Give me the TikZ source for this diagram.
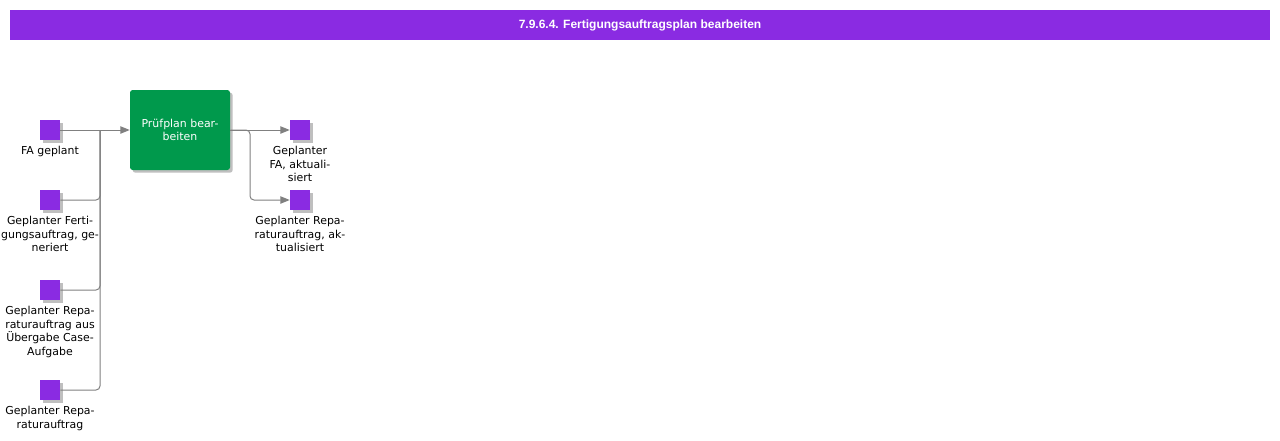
\documentclass[tikz,border=0pt]{standalone}
\usepackage{fontspec}
\setmainfont{DejaVu Sans}
\newfontfamily\titelfont{Liberation Sans}
\usetikzlibrary{positioning,shadows,arrows.meta}

\definecolor{violett}{RGB}{138,43,226}
\definecolor{gruen}{RGB}{0,153,76}
\definecolor{pfeil}{RGB}{128,128,128}

\tikzset{
  obj/.style={fill=violett, minimum size=15pt, inner sep=0pt,
    drop shadow={shadow xshift=2pt, shadow yshift=-2pt, fill=black!25, opacity=1}},
  lbl/.style={align=center, inner sep=0pt, font=\fontsize{8.2}{10.1}\selectfont},
  task/.style={fill=gruen, text=white, rounded corners=2pt, minimum width=75pt,
    minimum height=60pt, align=center, font=\fontsize{8.2}{10.1}\selectfont,
    drop shadow={shadow xshift=2pt, shadow yshift=-2pt, fill=black!25, opacity=1}},
  con/.style={draw=pfeil, line width=0.75pt, rounded corners=3pt,
    -{Triangle[length=7pt,width=5.5pt]}},
  bus/.style={draw=pfeil, line width=0.75pt, rounded corners=3pt}
}

\begin{document}
\begin{tikzpicture}[x=0.75pt,y=-0.75pt]
\useasboundingbox (0,0) rectangle (1280,440);

% Kopfzeile
\node[fill=violett, text=white, minimum width=945pt, minimum height=22.5pt,
  font=\titelfont\bfseries\fontsize{9}{11}\selectfont] (titel) at (640,25)
  {7.9.6.4. Fertigungsauftragsplan bearbeiten};

% Eingaben
\node[obj] (fa) at (50,130) {};
\node[lbl, below=4.5pt of fa] (fatext) {FA geplant};
\node[obj] (ferti) at (50,200) {};
\node[lbl, below=4.5pt of ferti] (fertitext) {Geplanter Ferti-\\gungsauftrag, ge-\\neriert};
\node[obj] (repcase) at (50,290) {};
\node[lbl, below=4.5pt of repcase] (repcasetext) {Geplanter Repa-\\raturauftrag aus\\Übergabe Case-\\Aufgabe};
\node[obj] (rep) at (50,390) {};
\node[lbl, below=4.5pt of rep] (reptext) {Geplanter Repa-\\raturauftrag};

% Funktion
\node[task] (pruef) at (180,130) {Prüfplan bear-\\beiten};

% Ausgaben
\node[obj] (faakt) at (300,130) {};
\node[lbl, below=4.5pt of faakt] (faakttext) {Geplanter\\FA, aktuali-\\siert};
\node[obj] (repakt) at (300,200) {};
\node[lbl, below=4.5pt of repakt] (repakttext) {Geplanter Repa-\\raturauftrag, ak-\\tualisiert};

\coordinate (sammel) at (100,130);
\coordinate (knick) at (250,200);

\draw[con] (fa) -- (pruef);
\draw[bus] (ferti) -| (sammel);
\draw[bus] (repcase) -| (sammel);
\draw[bus] (rep) -| (sammel);
\draw[con] (pruef) -- (faakt);
\draw[con] (pruef.east) -| (knick) -- (repakt);

\end{tikzpicture}
\end{document}
